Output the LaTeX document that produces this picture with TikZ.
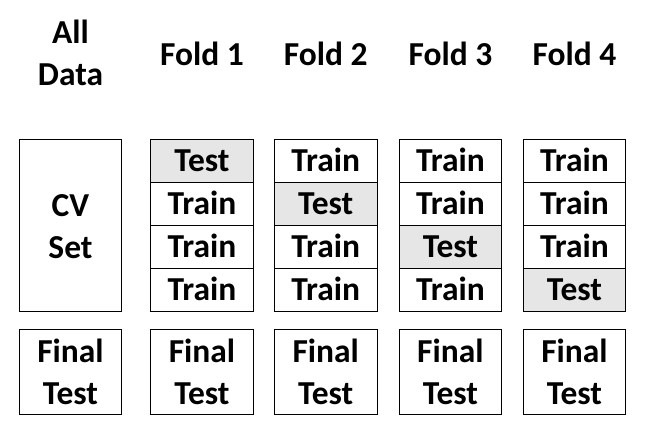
\documentclass[tikz,border=0pt]{standalone}
\usepackage{fontspec}
\setmainfont{Carlito}
\definecolor{testgray}{HTML}{E7E6E6}
\begin{document}
\begin{tikzpicture}[x=1pt,y=-1pt,
  lbl/.style={font=\fontsize{33.5}{42}\selectfont\bfseries},
  cell/.style={draw=black,line width=0.9pt,minimum width=102.5pt,minimum height=43pt,
    inner sep=0pt,lbl,text height=21.5pt,text depth=-3pt},
  testcell/.style={cell,fill=testgray},
  tall/.style={draw=black,line width=0.9pt,minimum width=102.5pt,inner sep=0pt},
  head/.style={lbl,anchor=base,align=center,inner sep=0pt}]
\useasboundingbox[fill=white] (0,0) rectangle (648,438);

% column centres
\def\cA{70.5}
% header labels (anchor is the baseline of the last line)
\node[head] (hall) at (\cA,86) {All\\Data};
\foreach \c/\x in {1/202,2/325.7,3/450.4,4/574.5}{
  \node[head] (h\c) at (\x,66) {Fold \c};
}

% whole cross-validation set
\node[tall,minimum height=172pt] (cv) at (\cA,225.5) {};
\node[head] (cvtxt) at (\cA,258.3) {CV\\Set};

% fold columns: four stacked parts, one of them used for testing
\foreach \c/\x in {1/202,2/325.7,3/450.4,4/574.5}{
  \foreach \r in {1,2,3,4}{
    \pgfmathsetmacro{\yy}{139.5+21.5+43*(\r-1)}
    \ifnum\r=\c
      \node[testcell] (f\c r\r) at (\x,\yy) {Test};
    \else
      \node[cell] (f\c r\r) at (\x,\yy) {Train};
    \fi
  }
}

% held-out final test boxes
\foreach \c/\x in {0/70.5,1/202,2/325.7,3/450.4,4/574.5}{
  \node[tall,minimum height=85pt] (ft\c) at (\x,372) {};
  \node[head] (ftt\c) at (\x,404.7) {Final\\Test};
}
\end{tikzpicture}
\end{document}
